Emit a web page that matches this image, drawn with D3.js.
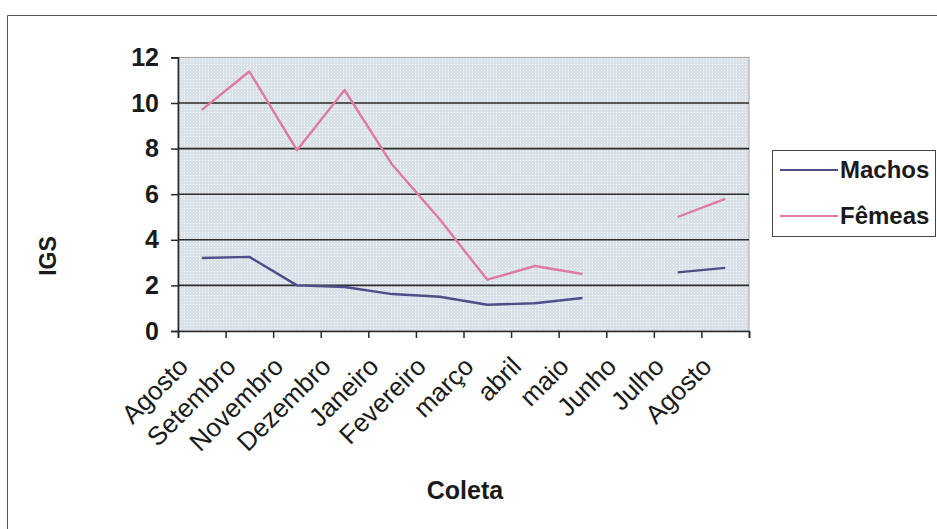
<!DOCTYPE html>
<html>
<head>
<meta charset="utf-8">
<script src="https://cdn.jsdelivr.net/npm/d3@7"></script>
<style>
  html, body { margin: 0; padding: 0; background: #fff; }
  svg { display: block; }
  text { font-family: "Liberation Sans", Arial, sans-serif; fill: #1a1a1a; }
</style>
</head>
<body>
<svg id="chart" width="937" height="529"></svg>
<script>
// Collection months (x categories)
const categories = ["Agosto", "Setembro", "Novembro", "Dezembro", "Janeiro", "Fevereiro",
                    "março", "abril", "maio", "Junho", "Julho", "Agosto"];
// Gonadosomatic index per collection (null = no sample)
const machos = [3.2, 3.25, 2.0, 1.93, 1.62, 1.5, 1.15, 1.22, 1.45, null, 2.57, 2.77];
const femeas = [9.7, 11.38, 7.93, 10.57, 7.3, 4.9, 2.25, 2.85, 2.5, null, 5.0, 5.8];
const yTicks = [0, 2, 4, 6, 8, 10, 12];
const seriesNames = ["Machos", "Fêmeas"];
const seriesColors = ["#4d5088", "#e07aa2"];

const svg = d3.select("#chart");
const plot = { left: 178, right: 749, top: 57.4, bottom: 331 };

const x = d3.scaleBand().domain(d3.range(categories.length)).range([plot.left, plot.right]);
const xEdge = d3.scaleLinear().domain([0, categories.length]).range([plot.left, plot.right]);
const y = d3.scaleLinear().domain([0, 12]).range([plot.bottom, plot.top]);

// Outer chart frame
svg.append("path")
  .attr("d", "M7.5,529 V15.5 H937")
  .attr("fill", "none").attr("stroke", "#555").attr("stroke-width", 1);

// Dotted plot-area fill
const defs = svg.append("defs");
const pat = defs.append("pattern").attr("id", "dots")
  .attr("width", 3).attr("height", 3).attr("patternUnits", "userSpaceOnUse");
pat.append("rect").attr("width", 3).attr("height", 3).attr("fill", "#d9e1e9");
pat.append("rect").attr("x", 1).attr("y", 1).attr("width", 1).attr("height", 1).attr("fill", "#f4f6f9");

svg.append("rect")
  .attr("x", plot.left).attr("y", plot.top)
  .attr("width", plot.right - plot.left).attr("height", plot.bottom - plot.top)
  .attr("fill", "url(#dots)").attr("stroke", "#a0a0a0").attr("stroke-width", 1);

// Horizontal gridlines
svg.append("g").selectAll("line")
  .data(yTicks.filter(v => v > 0 && v < 12))
  .join("line")
  .attr("x1", plot.left).attr("x2", plot.right)
  .attr("y1", d => y(d)).attr("y2", d => y(d))
  .attr("stroke", "#2a2a2a").attr("stroke-width", 1.6);

// Y axis
const yAxis = svg.append("g")
  .attr("transform", `translate(${plot.left},0)`)
  .call(d3.axisLeft(y).tickValues(yTicks).tickSize(7).tickPadding(12).tickFormat(d3.format("d")));
yAxis.select(".domain").attr("stroke", "#2a2a2a").attr("stroke-width", 1.6);
yAxis.selectAll(".tick line").attr("stroke", "#2a2a2a").attr("stroke-width", 1.5);
yAxis.selectAll(".tick text")
  .attr("font-size", 25).attr("font-weight", "bold")
  .attr("font-family", "Liberation Sans, Arial, sans-serif").attr("fill", "#1a1a1a");

// X axis: ticks on category boundaries
const xAxis = svg.append("g")
  .attr("transform", `translate(0,${plot.bottom})`)
  .call(d3.axisBottom(xEdge).tickValues(d3.range(categories.length + 1)).tickSize(7).tickFormat(""));
xAxis.select(".domain").attr("stroke", "#2a2a2a").attr("stroke-width", 1.6);
xAxis.selectAll(".tick line").attr("stroke", "#2a2a2a").attr("stroke-width", 1.5);

// Rotated category labels
svg.append("g").selectAll("text")
  .data(categories)
  .join("text")
  .attr("transform", (d, i) => `translate(${x(i) + x.bandwidth() / 2 - 12},${368}) rotate(-45)`)
  .attr("text-anchor", "end")
  .attr("font-size", 26)
  .text(d => d);

// Series lines
const line = d3.line()
  .defined(d => d != null)
  .x((d, i) => x(i) + x.bandwidth() / 2)
  .y(d => y(d));

[machos, femeas].forEach((vals, k) => {
  svg.append("path")
    .datum(vals)
    .attr("d", line)
    .attr("fill", "none")
    .attr("stroke", seriesColors[k])
    .attr("stroke-width", 2.4)
    .attr("stroke-linejoin", "round");
});

// Axis titles
svg.append("text")
  .attr("x", 465).attr("y", 499)
  .attr("text-anchor", "middle")
  .attr("font-size", 25).attr("font-weight", "bold")
  .text("Coleta");

svg.append("text")
  .attr("transform", "translate(56,256) rotate(-90)")
  .attr("text-anchor", "middle")
  .attr("font-size", 23).attr("font-weight", "bold")
  .text("IGS");

// Legend
const legend = svg.append("g");
legend.append("rect")
  .attr("x", 772.5).attr("y", 150.5).attr("width", 163).attr("height", 86)
  .attr("fill", "#fff").attr("stroke", "#444").attr("stroke-width", 1);
const legendRows = [170, 216];
seriesNames.forEach((name, k) => {
  legend.append("line")
    .attr("x1", 780).attr("x2", 838)
    .attr("y1", legendRows[k]).attr("y2", legendRows[k])
    .attr("stroke", seriesColors[k]).attr("stroke-width", 2.2);
  legend.append("text")
    .attr("x", 840).attr("y", legendRows[k] + 8)
    .attr("font-size", 24).attr("font-weight", "bold")
    .text(name);
});
</script>
</body>
</html>
